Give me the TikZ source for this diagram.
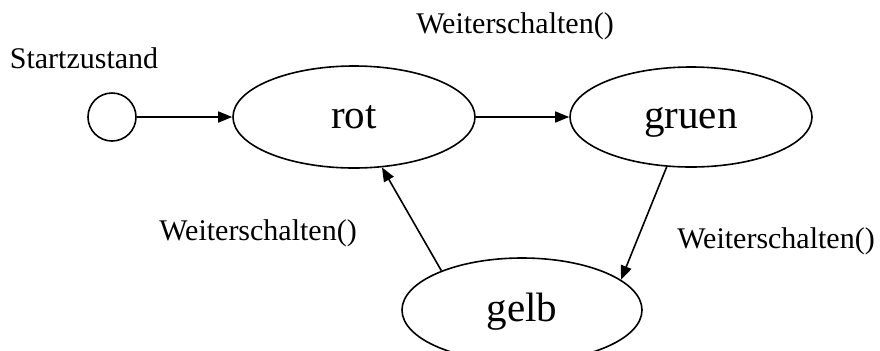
\documentclass[tikz,border=0pt]{standalone}
\usepackage{fontspec}
\setmainfont{Liberation Serif}
\usetikzlibrary{shapes.geometric,arrows.meta}
\begin{document}
\begin{tikzpicture}[x=1bp,y=-1bp,
  state/.style={ellipse,draw,line width=1.6bp,inner sep=0pt,
    text height=30bp,text depth=8bp,font=\fontsize{41bp}{48bp}\selectfont},
  initial/.style={circle,draw,line width=1.6bp,minimum size=48bp,inner sep=0pt},
  lbl/.style={font=\fontsize{30bp}{36bp}\selectfont,anchor=base,inner sep=0pt},
  trans/.style={-{Triangle[length=14bp,width=11bp]},line width=1.6bp}]
\useasboundingbox (0,0) rectangle (880,350);
% states
\node[initial] (start) at (112,117) {};
\node[state,minimum width=242bp,minimum height=102bp] (rot) at (354,117) {rot};
\node[state,minimum width=242bp,minimum height=100bp] (gruen) at (691,117) {gruen};
\node[state,minimum width=240bp,minimum height=104bp] (gelb) at (522,310) {gelb};
% labels
\node[lbl] (lstart) at (84,68) {Startzustand};
\node[lbl] (l1) at (515,33) {Weiterschalten()};
\node[lbl] (l2) at (776,248) {Weiterschalten()};
\node[lbl] (l3) at (258,240) {Weiterschalten()};
% transitions
\draw[trans] (start) -- (rot);
\draw[trans] (rot) -- (gruen);
\draw[trans] (gruen.244) -- (gelb.17);
\draw[trans] (gelb.154) -- (rot.299);
\end{tikzpicture}
\end{document}
